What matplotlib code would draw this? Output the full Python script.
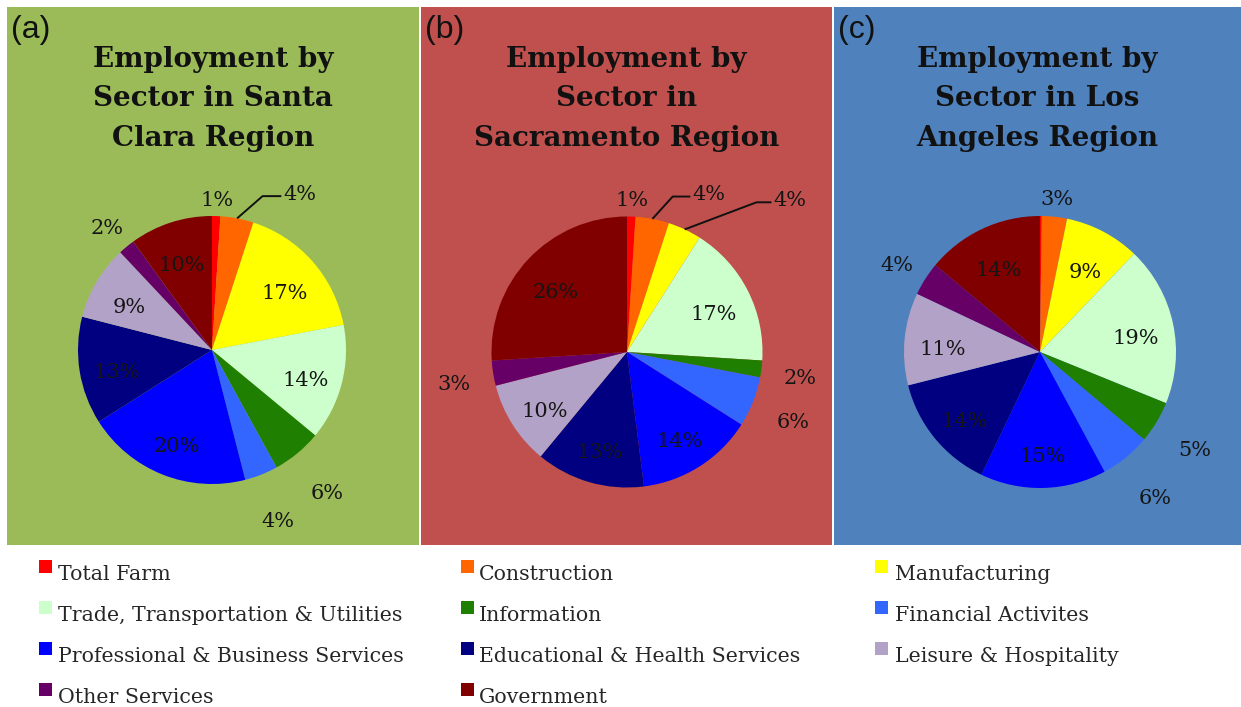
import matplotlib
matplotlib.use('Agg')
import matplotlib.pyplot as plt
from matplotlib.patches import Rectangle
import numpy as np

W, H = 1241, 707

# --- data -------------------------------------------------------------
sectors = ['Total Farm', 'Construction', 'Manufacturing',
           'Trade, Transportation & Utilities', 'Information', 'Financial Activites',
           'Professional & Business Services', 'Educational & Health Services',
           'Leisure & Hospitality', 'Other Services', 'Government']
sector_colors = ['#FF0000', '#FF6600', '#FFFF00', '#CCFFCC', '#1F7F00', '#3366FF',
                 '#0000FF', '#000080', '#B3A2C7', '#660066', '#800000']

santa_clara = [1, 4, 17, 14, 6, 4, 20, 13, 9, 2, 10]
sacramento = [1, 4, 4, 17, 2, 6, 14, 13, 10, 3, 26]
los_angeles = [0.2, 3, 9, 19, 5, 6, 15, 14, 11, 4, 14]

panel_letters = ['(a)', '(b)', '(c)']
panel_titles = ['Employment by\nSector in Santa\nClara Region',
                'Employment by\nSector in\nSacramento Region',
                'Employment by\nSector in Los\nAngeles Region']
panel_colors = ['#9BBB59', '#C0504D', '#4F81BD']

# --- layout (pixel units, y measured from the top) ---------------------
panel_x = [(7, 419), (421, 832), (834, 1241)]
panel_top, panel_bottom = 7, 545
pie_geom = [(212, 350, 134), (627, 352, 135.5), (1040, 352, 136)]
# leader lines: slice index -> (elbow dx, elbow dy, line end dx), in radii
leaders = [{1: (0.19, 0.166, 0.33)},
           {1: (0.15, 0.165, 0.28), 2: (0.53, 0.2, 0.64)},
           {}]
label_drop = 7  # px, labels sit a bit below their geometric spot

label_font = dict(family='DejaVu Serif', fontsize=15, color='#151515')

fig = plt.figure(figsize=(W / 100, H / 100), dpi=100)
ax = fig.add_axes([0, 0, 1, 1])

regions = [santa_clara, sacramento, los_angeles]
for i, values in enumerate(regions):
    x0, x1 = panel_x[i]
    ax.add_patch(Rectangle((x0, H - panel_bottom), x1 - x0, panel_bottom - panel_top,
                           facecolor=panel_colors[i], edgecolor='none', zorder=0))
    ax.text(x0 + 4, H - 15, panel_letters[i], ha='left', va='top',
            family='Liberation Sans', fontsize=23, color='#111111')
    ax.text((x0 + x1) / 2, H - 99, panel_titles[i], ha='center', va='center',
            family='DejaVu Serif', fontweight='bold', fontsize=20,
            linespacing=1.6, color='#111111')

    cx, cy, r = pie_geom[i]
    cy = H - cy
    ax.pie(values, colors=sector_colors, startangle=90, counterclock=False,
           center=(cx, cy), radius=r, wedgeprops=dict(linewidth=0))

    vals = np.array(values, dtype=float)
    starts = np.concatenate([[0], np.cumsum(vals)[:-1]]) / vals.sum()
    mids = np.deg2rad(90 - 360 * (starts + vals / vals.sum() / 2))
    for j, v in enumerate(vals):
        if v < 0.5:
            continue
        txt = f'{int(round(v))}%'
        c, s = np.cos(mids[j]), np.sin(mids[j])
        if j in leaders[i]:
            ex, ey, tx = leaders[i][j]
            px, py = cx + r * c, cy + r * s
            ax.plot([px, px + ex * r, px + tx * r], [py, py + ey * r, py + ey * r],
                    color='#111111', lw=1.4, solid_capstyle='butt')
            ax.text(px + tx * r + 2, py + ey * r + 2, txt, ha='left', va='center', **label_font)
        elif v >= 7:
            ax.text(cx + 0.72 * r * c, cy + 0.72 * r * s - label_drop, txt,
                    ha='center', va='center', **label_font)
        else:
            d = r * (1.15 + 0.12 * abs(c) + 0.15 * max(0.0, -s))
            ax.text(cx + d * c, cy + d * s - label_drop + 2, txt,
                    ha='center', va='center', **label_font)

# --- legend (row-wise, three columns) ----------------------------------
marker_x = [39, 461, 875]
text_x = [58, 479, 895]
row_base = [580, 621, 662, 703]
for k, name in enumerate(sectors):
    row, col = divmod(k, 3)
    yb = H - row_base[row]
    ax.add_patch(Rectangle((marker_x[col], yb + 7), 13, 13,
                           facecolor=sector_colors[k], edgecolor='none'))
    ax.text(text_x[col], yb, name, ha='left', va='baseline',
            family='DejaVu Serif', fontsize=14.8, color='#262626')

ax.set_aspect('auto')
ax.set_xlim(0, W)
ax.set_ylim(0, H)
ax.set_axis_off()

fig.savefig('out.png', dpi=100, facecolor='white')
